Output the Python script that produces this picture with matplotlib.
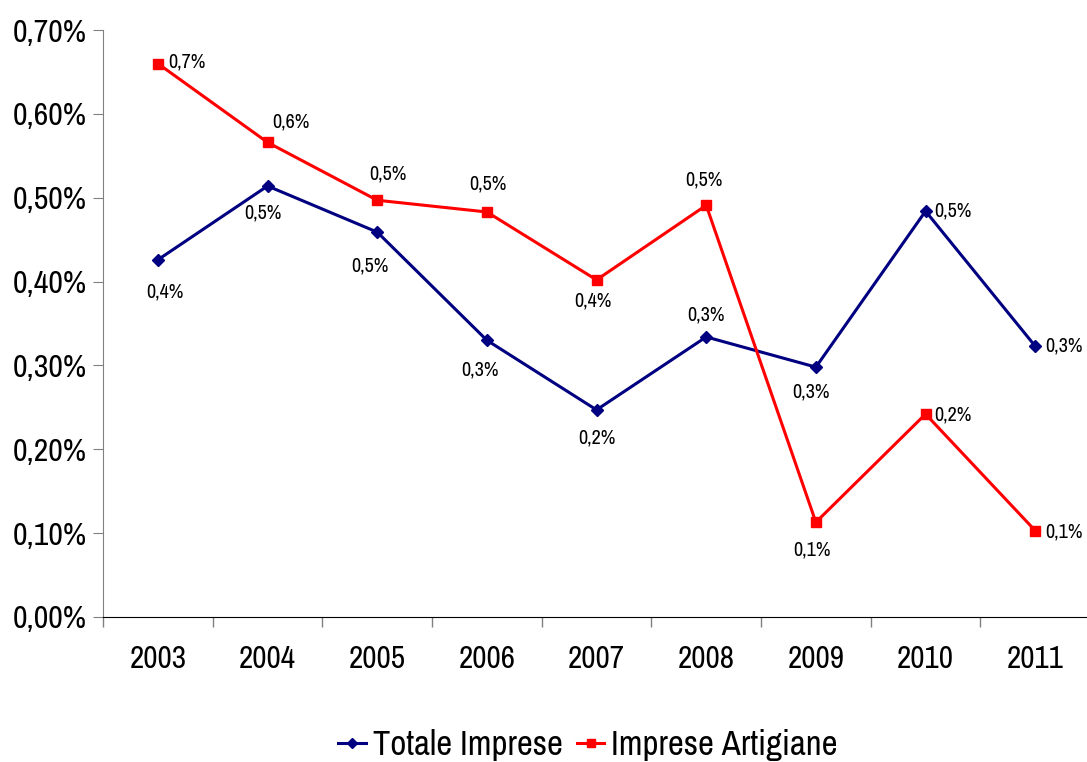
import matplotlib
matplotlib.use("Agg")
import matplotlib.pyplot as plt
from matplotlib.ticker import FuncFormatter

years = ["2003", "2004", "2005", "2006", "2007", "2008", "2009", "2010", "2011"]
totale = [0.426, 0.514, 0.459, 0.330, 0.247, 0.334, 0.298, 0.484, 0.323]
artigiane = [0.660, 0.566, 0.497, 0.483, 0.402, 0.491, 0.113, 0.242, 0.103]
y_ticks = [0.0, 0.1, 0.2, 0.3, 0.4, 0.5, 0.6, 0.7]

plt.rcParams["font.family"] = ["Archivo Narrow", "Roboto Condensed", "DejaVu Sans"]

# label offsets in pixels (dx, dy), ha
off_tot = [((7, -32), "center"), ((-5, -27), "center"), ((-7, -34), "center"),
           ((-7, -30), "center"), ((0, -28), "center"), ((0, 22), "center"),
           ((-5, -25), "center"), ((9, 0), "left"), ((10, 0), "left")]
off_art = [((10, 2), "left"), ((23, 20), "center"), ((11, 26), "center"),
           ((1, 28), "center"), ((-4, -21), "center"), ((-2, 25), "center"),
           ((-4, -28), "center"), ((9, -1), "left"), ((10, -1), "left")]

fig = plt.figure(figsize=(10.87, 7.62), dpi=100)
ax = fig.add_axes([0.0948, 0.1903, 0.908, 0.7703])
x = list(range(len(years)))
l1, = ax.plot(x, totale, color="#000080", lw=2.2, marker="D", ms=6.5, label="Totale Imprese")
l2, = ax.plot(x, artigiane, color="#FF0000", lw=2.2, marker="s", ms=7, label="Imprese Artigiane")

def fmt1(v):
    return f"{v:.1f}%".replace(".", ",")

px = 0.72
for i, v in enumerate(totale):
    (dx, dy), ha = off_tot[i]
    ax.annotate(fmt1(v), (i, v), xytext=(dx * px, dy * px), textcoords="offset points",
                ha=ha, va="center", fontsize=14.5, color="black")
for i, v in enumerate(artigiane):
    (dx, dy), ha = off_art[i]
    ax.annotate(fmt1(v), (i, v), xytext=(dx * px, dy * px), textcoords="offset points",
                ha=ha, va="center", fontsize=14.5, color="black")

ax.set_xlim(-0.5, len(years) - 0.5)
ax.set_ylim(0, 0.7)
ax.set_yticks(y_ticks)
ax.yaxis.set_major_formatter(FuncFormatter(lambda v, p: f"{v:.2f}%".replace(".", ",")))
ax.set_xticks(x)
ax.set_xticklabels(years)
ax.set_xticks([i - 0.5 for i in range(len(years) + 1)], minor=True)
ax.tick_params(axis="x", which="major", length=0, pad=20, labelsize=22.5)
ax.tick_params(axis="x", which="minor", length=7, color="#808080", width=1)
ax.tick_params(axis="y", length=7, color="#808080", labelsize=23, pad=5)
ax.spines["top"].set_visible(False)
ax.spines["right"].set_visible(False)
ax.spines["left"].set_color("#808080")
ax.spines["bottom"].set_color("black")

fig.legend(handles=[l1, l2], loc="center", bbox_to_anchor=(0.541, 0.022), ncol=2,
           frameon=False, fontsize=25, handlelength=0.8, handletextpad=0.2,
           columnspacing=0.4, borderaxespad=0, markerscale=0.8)

fig.savefig("out.png", dpi=100)
